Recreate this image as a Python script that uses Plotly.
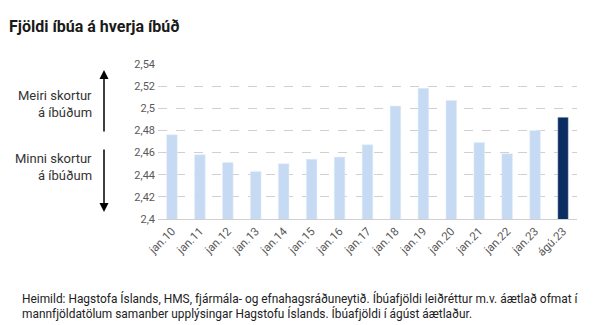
import plotly.graph_objects as go

categories = ["jan.10", "jan.11", "jan.12", "jan.13", "jan.14", "jan.15", "jan.16", "jan.17",
              "jan.18", "jan.19", "jan.20", "jan.21", "jan.22", "jan.23", "ágú.23"]
values = [2.476, 2.458, 2.451, 2.443, 2.450, 2.454, 2.456, 2.467,
          2.502, 2.518, 2.507, 2.469, 2.459, 2.480, 2.492]
bar_colors = ["#C6DBF3"] * 14 + ["#0C2D62"]
y_tickvals = [2.40, 2.42, 2.44, 2.46, 2.48, 2.50, 2.52, 2.54]
y_ticktext = ["2,4", "2,42", "2,44", "2,46", "2,48", "2,5", "2,52", "2,54"]

W, H = 594, 325
L, R, T, B = 158, 17, 64, 106
pw, ph = W - L - R, H - T - B

def px(x):
    return (x - L) / pw

def py(y):
    return (H - B - y) / ph

FONT = "Roboto"

fig = go.Figure(go.Bar(x=categories, y=values, marker_color=bar_colors, width=0.38))

fig.update_layout(
    width=W, height=H,
    margin=dict(l=L, r=R, t=T, b=B),
    paper_bgcolor="white", plot_bgcolor="white",
    font=dict(family=FONT, size=11, color="#404040"),
    showlegend=False,
)
fig.update_yaxes(range=[2.4, 2.54], tickvals=y_tickvals, ticktext=y_ticktext,
                 showgrid=True, gridcolor="#D0D0D0", griddash="dash", gridwidth=1,
                 zeroline=False, ticks="", ticklabelstandoff=2,
                 tickfont=dict(size=11, color="#595959"))
fig.update_xaxes(tickangle=-45, showline=True, linecolor="#D0D0D0", linewidth=1,
                 ticks="", tickfont=dict(size=11.5, color="#595959"))

ann = []
ann.append(dict(text="<b>Fjöldi íbúa á hverja íbúð</b>", xref="paper", yref="paper",
                x=px(7), y=py(27), xanchor="left", yanchor="middle", showarrow=False,
                font=dict(size=16, color="#1a1a1a", family=FONT)))
for txt, yy in [("Meiri skortur", 95), ("á íbúðum", 112), ("Minni skortur", 158), ("á íbúðum", 175)]:
    ann.append(dict(text=txt, xref="paper", yref="paper", x=px(94), y=py(yy),
                    xanchor="right", yanchor="middle", showarrow=False,
                    font=dict(size=13, color="#333333", family=FONT)))
ann.append(dict(text="", xref="paper", yref="paper", x=px(104), y=py(70),
                ax=0, ay=63, showarrow=True, arrowhead=2, arrowsize=1.2, arrowwidth=1.5,
                arrowcolor="#000000"))
ann.append(dict(text="", xref="paper", yref="paper", x=px(104), y=py(212),
                ax=0, ay=-64, showarrow=True, arrowhead=2, arrowsize=1.2, arrowwidth=1.5,
                arrowcolor="#000000"))
ann.append(dict(text="Heimild: Hagstofa Íslands, HMS, fjármála- og efnahagsráðuneytið. Íbúafjöldi leiðréttur m.v. áætlað ofmat í<br>"
                     "mannfjöldatölum samanber upplýsingar Hagstofu Íslands. Íbúafjöldi í ágúst áætlaður.",
                xref="paper", yref="paper", x=px(20), y=py(289), xanchor="left", yanchor="top",
                align="left", showarrow=False, font=dict(size=11.9, color="#222222", family=FONT)))
fig.update_layout(annotations=ann)

fig.write_html("out.html")
